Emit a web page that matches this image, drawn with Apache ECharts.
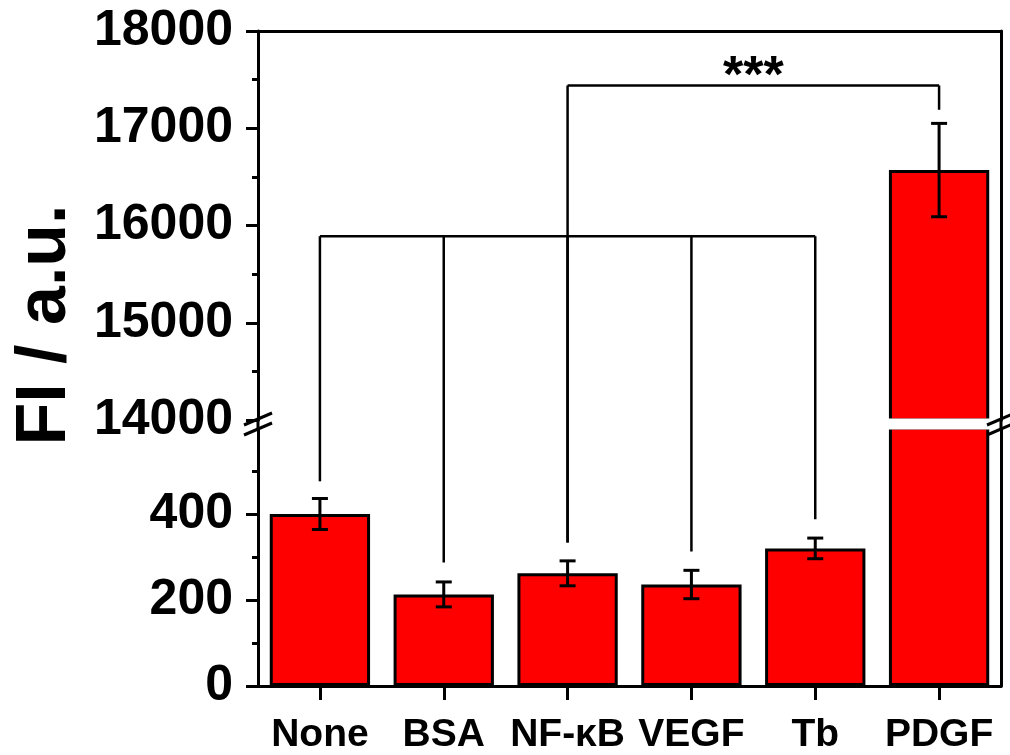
<!DOCTYPE html>
<html>
<head>
<meta charset="utf-8">
<script src="https://cdn.jsdelivr.net/npm/echarts@6/dist/echarts.min.js"></script>
<style>
  html, body { margin: 0; padding: 0; background: #fff; }
  #chart { width: 1010px; height: 755px; }
</style>
</head>
<body>
<div id="chart"></div>
<script>
const categories = ['None', 'BSA', 'NF-κB', 'VEGF', 'Tb', 'PDGF'];
const values = [400, 213, 262, 236, 320, 16570];
const errors = [36, 29, 29, 33, 24, 480];

// broken y axis: upper part and lower part
const upperMin = 14000, upperMax = 18000, upperStep = 1000;
const lowerMin = 0, lowerMax = 600, lowerStep = 200;
const lowerLabels = [0, 200, 400];

// significance brackets: top value and where each leg stops
const bracketA = { top: 15890, legs: [0, 1, 2, 3, 4], ends: [476, 287, 334, 313, 388] };
const bracketB = { top: 17440, legs: [2, 5], ends: [334, 17190], mark: '***' };

const FONT = "'Liberation Sans', Arial, sans-serif";
const L = 258, R = 9;          // grid left / right
const upTop = 31, upBottom = 420;
const lowTop = 428, lowBottom = 686;

const chart = echarts.init(document.getElementById('chart'));

const upperBars = values.map(v => (v > upperMin ? v : '-'));
const lowerBars = values.slice();

const errUpper = [], errLower = [];
values.forEach((v, i) => {
  if (v > upperMin) errUpper.push([i, v, errors[i]]);
  else errLower.push([i, v, errors[i]]);
});

function errRender(params, api) {
  const i = api.value(0), v = api.value(1), e = api.value(2);
  const a = api.coord([i, v + e]);
  const b = api.coord([i, v - e]);
  const hw = 8;
  const st = { stroke: '#000', lineWidth: 3 };
  return {
    type: 'group',
    children: [
      { type: 'line', shape: { x1: a[0], y1: a[1], x2: b[0], y2: b[1] }, style: st },
      { type: 'line', shape: { x1: a[0] - hw, y1: a[1], x2: a[0] + hw, y2: a[1] }, style: st },
      { type: 'line', shape: { x1: b[0] - hw, y1: b[1], x2: b[0] + hw, y2: b[1] }, style: st }
    ]
  };
}

const lineSt = { color: '#000', width: 3 };
const barStyle = { color: '#ff0000', borderColor: '#000', borderWidth: 3 };
const yLabel = { fontFamily: FONT, fontWeight: 'bold', fontSize: 50, color: '#000', margin: 25, formatter: v => String(v) };

const option = {
  animation: false,
  backgroundColor: '#fff',
  grid: [
    { left: L, right: R, top: upTop, height: upBottom - upTop },
    { left: L, right: R, top: lowTop, height: lowBottom - lowTop }
  ],
  xAxis: [
    {
      gridIndex: 0, type: 'category', data: categories, position: 'top',
      axisLine: { show: true, lineStyle: lineSt },
      axisTick: { show: false }, axisLabel: { show: false }, splitLine: { show: false }
    },
    {
      gridIndex: 1, type: 'category', data: categories, position: 'bottom',
      axisLine: { show: true, lineStyle: lineSt },
      axisTick: { show: true, alignWithLabel: true, length: 14, lineStyle: lineSt },
      axisLabel: { fontFamily: FONT, fontWeight: 'bold', fontSize: 39, color: '#000', margin: 30, interval: 0 },
      splitLine: { show: false }
    }
  ],
  yAxis: [
    {
      gridIndex: 0, type: 'value', min: upperMin, max: upperMax, interval: upperStep,
      axisLine: { show: true, lineStyle: lineSt },
      axisTick: { show: true, length: 12, lineStyle: lineSt },
      minorTick: { show: true, splitNumber: 2, length: 6, lineStyle: lineSt },
      axisLabel: yLabel,
      splitLine: { show: false }
    },
    {
      gridIndex: 0, type: 'value', min: upperMin, max: upperMax, position: 'right',
      axisLine: { show: true, lineStyle: lineSt },
      axisTick: { show: false }, axisLabel: { show: false }, splitLine: { show: false }
    },
    {
      gridIndex: 1, type: 'value', min: lowerMin, max: lowerMax, interval: lowerStep,
      axisLine: { show: true, lineStyle: lineSt },
      axisTick: { show: true, length: 12, lineStyle: lineSt, customValues: lowerLabels },
      minorTick: { show: true, splitNumber: 2, length: 6, lineStyle: lineSt },
      axisLabel: Object.assign({}, yLabel, { customValues: lowerLabels }),
      splitLine: { show: false }
    },
    {
      gridIndex: 1, type: 'value', min: lowerMin, max: lowerMax, position: 'right',
      axisLine: { show: true, lineStyle: lineSt },
      axisTick: { show: false }, axisLabel: { show: false }, splitLine: { show: false }
    }
  ],
  series: [
    {
      type: 'bar', xAxisIndex: 0, yAxisIndex: 0, data: upperBars,
      barCategoryGap: '19%', itemStyle: barStyle, clip: true
    },
    {
      type: 'bar', xAxisIndex: 1, yAxisIndex: 2, data: lowerBars,
      barCategoryGap: '19%', itemStyle: barStyle, clip: true
    },
    {
      type: 'custom', xAxisIndex: 0, yAxisIndex: 0, data: errUpper,
      encode: { x: 0, y: 1 }, renderItem: errRender, z: 5
    },
    {
      type: 'custom', xAxisIndex: 1, yAxisIndex: 2, data: errLower,
      encode: { x: 0, y: 1 }, renderItem: errRender, z: 5
    }
  ]
};

chart.setOption(option);

// pixel of a (category index, value) in whichever half of the broken axis holds it
function toPx(i, v) {
  if (v >= upperMin) return chart.convertToPixel({ xAxisIndex: 0, yAxisIndex: 0 }, [i, v]);
  return chart.convertToPixel({ xAxisIndex: 1, yAxisIndex: 2 }, [i, v]);
}

const g = [];
const W = 1010;
const yUp = chart.convertToPixel({ yAxisIndex: 0 }, upperMin);
const yLow = chart.convertToPixel({ yAxisIndex: 2 }, lowerMax);

// white gap through the bars
g.push({
  type: 'rect', z: 100,
  shape: { x: L + 3, y: yUp - 1.5, width: W - R - L - 6, height: yLow - yUp + 3 },
  style: { fill: '#fff' }
});
// axis lines bridging the gap, and break marks
[L, W - R].forEach(x => {
  g.push({ type: 'line', z: 101, shape: { x1: x, y1: yUp, x2: x, y2: yLow }, style: { stroke: '#000', lineWidth: 3 } });
  [yUp - 1, yLow + 1].forEach(y => {
    g.push({ type: 'line', z: 102, shape: { x1: x - 14, y1: y + 6, x2: x + 14, y2: y - 6 }, style: { stroke: '#000', lineWidth: 3 } });
  });
});

function addBracket(b) {
  const pts = b.legs.map((i, k) => ({ top: toPx(i, b.top), end: toPx(i, b.ends[k]) }));
  const st = { stroke: '#000', lineWidth: 2.5 };
  g.push({ type: 'line', z: 103, shape: { x1: pts[0].top[0], y1: pts[0].top[1], x2: pts[pts.length - 1].top[0], y2: pts[pts.length - 1].top[1] }, style: st });
  pts.forEach(p => {
    g.push({ type: 'line', z: 103, shape: { x1: p.top[0], y1: p.top[1], x2: p.end[0], y2: p.end[1] }, style: st });
  });
  if (b.mark) {
    g.push({
      type: 'text', z: 103,
      x: (pts[0].top[0] + pts[pts.length - 1].top[0]) / 2, y: pts[0].top[1] - 8,
      style: { text: b.mark, fontFamily: FONT, fontWeight: 'bold', fontSize: 52, fill: '#000', align: 'center', verticalAlign: 'middle' }
    });
  }
}
addBracket(bracketA);
addBracket(bracketB);

// y axis title
g.push({
  type: 'text', z: 103, x: 46, y: 325, rotation: Math.PI / 2,
  style: { text: 'FI / a.u.', fontFamily: FONT, fontWeight: 'bold', fontSize: 70, fill: '#000', align: 'center', verticalAlign: 'middle' }
});

chart.setOption({ graphic: g });
</script>
</body>
</html>
